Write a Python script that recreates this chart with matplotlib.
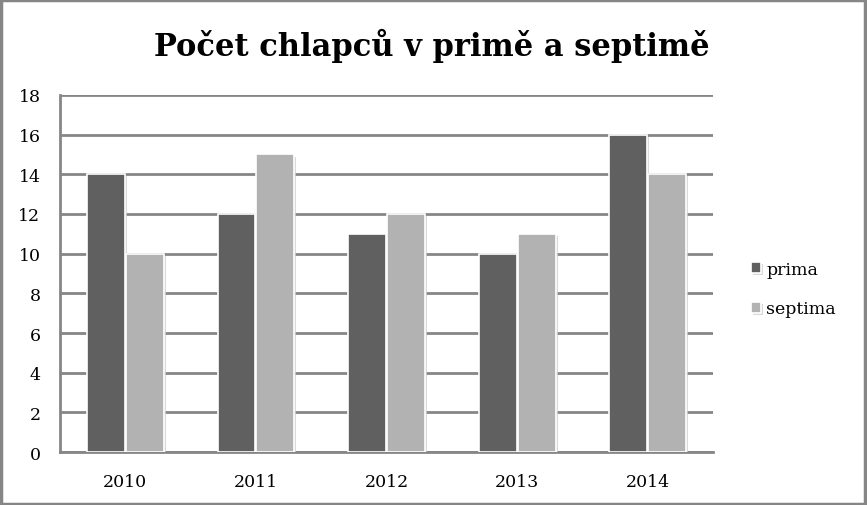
import numpy as np
import matplotlib.pyplot as plt
from matplotlib.patches import Rectangle
import matplotlib.patheffects as pe

years = ['2010', '2011', '2012', '2013', '2014']
prima = [14, 12, 11, 10, 16]
septima = [10, 15, 12, 11, 14]

dark = '#606060'
light = '#b2b2b2'
grid_col = '#868686'
serif = ['DejaVu Serif']

fig = plt.figure(figsize=(8.67, 5.06), dpi=100)
ax = fig.add_axes([0.0692, 0.1047, 0.7532, 0.7056])

x = np.arange(len(years))
w = 0.29
shadow = [pe.SimplePatchShadow(offset=(1.5, -1.5), shadow_rgbFace='#d0d0d0', alpha=0.8), pe.Normal()]
b1 = ax.bar(x - w / 2 - 0.004, prima, w, color=dark, edgecolor='white', linewidth=1.2,
            label='prima', zorder=3)
b2 = ax.bar(x + w / 2 + 0.004, septima, w, color=light, edgecolor='white', linewidth=1.2,
            label='septima', zorder=3)
for b in list(b1) + list(b2):
    b.set_path_effects(shadow)

ax.set_xlim(-0.5, len(years) - 0.5)
ax.set_ylim(0, 18)
ax.set_yticks(range(0, 19, 2))
ax.set_xticks(x)
ax.set_xticklabels(years, family=serif, fontsize=12.5)
for lab in ax.get_yticklabels():
    lab.set_family(serif)
    lab.set_fontsize(12.5)
ax.tick_params(length=0)
ax.tick_params(axis='x', pad=15)
ax.tick_params(axis='y', pad=14)
ax.yaxis.grid(True, color=grid_col, linewidth=2, zorder=0)
ax.set_axisbelow(True)
for s in ['top', 'right']:
    ax.spines[s].set_visible(False)
for s in ['left', 'bottom']:
    ax.spines[s].set_color(grid_col)
    ax.spines[s].set_linewidth(2)

fig.text(0.498, 0.91, 'Počet chlapců v primě a septimě', ha='center', va='center',
         family=serif, fontweight='bold', fontsize=22)

leg = fig.legend(handles=[b1, b2], labels=['prima', 'septima'], loc='center left',
                 bbox_to_anchor=(0.848, 0.427), frameon=False, handlelength=0.6,
                 handleheight=0.6, handletextpad=0.3, labelspacing=1.3,
                 prop={'family': serif, 'size': 12.5})

fig.patches.append(Rectangle((0.001, 0.002), 0.997, 0.996, transform=fig.transFigure,
                             fill=False, edgecolor=grid_col, linewidth=2.5))

fig.savefig('out.png', dpi=100)
